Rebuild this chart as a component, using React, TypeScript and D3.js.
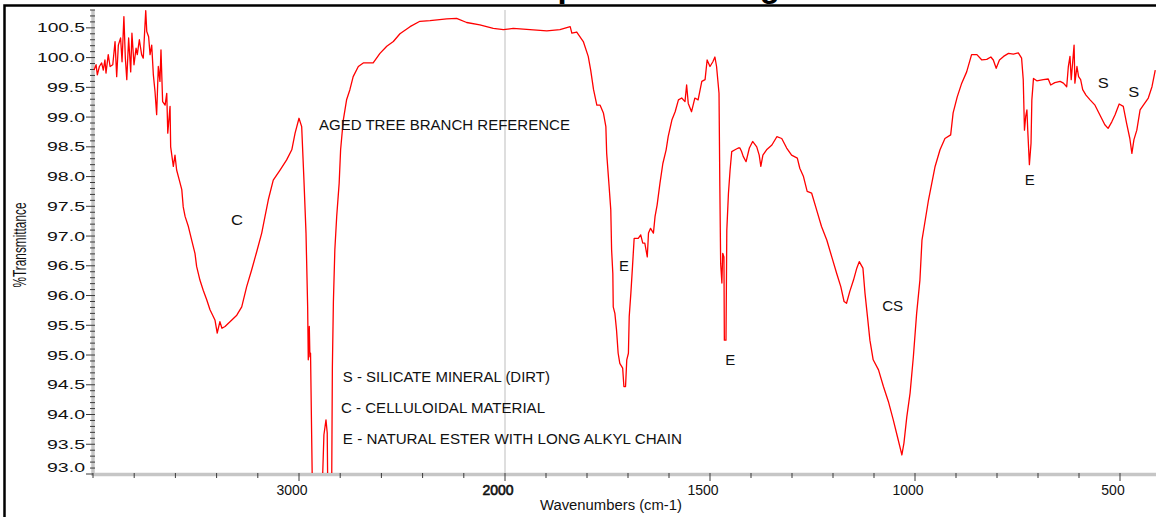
import React, { useRef, useEffect } from "react";
import * as d3 from "d3";

const WIDTH = 1156;
const HEIGHT = 517;
const PLOT = { left: 93, brk: 505, right: 1161, top: 10, bottom: 474 };
const LINE_COLOR = "#ff0000";
const AXIS_COLOR = "#c6c6c6";
const TICK_COLOR = "#3a3a3a";
const TEXT_COLOR = "#111";
const FONT = "'Liberation Sans', Arial, sans-serif";

// x axis is split at 2000 cm-1: the part below 2000 is drawn at twice the scale
const X_DOMAIN = [4000, 2000, 400];
const Y_DOMAIN = [93.0, 100.8];
const Y_TICKS = [93.0, 93.5, 94.0, 94.5, 95.0, 95.5, 96.0, 96.5, 97.0, 97.5, 98.0, 98.5, 99.0, 99.5, 100.0, 100.5];
const X_TICK_LABELS = [3000, 2000, 1500, 1000, 500];

// spectrum (values under 93.0 are off the chart)
const wavenumbers = [
  3995, 3985, 3979, 3969, 3958, 3950, 3942, 3937, 3926, 3917, 3904, 3893, 3885, 3877, 3866, 3859,
  3850, 3843, 3836, 3827, 3817, 3811, 3801, 3791, 3785, 3775, 3764, 3756, 3744, 3739, 3730, 3723,
  3715, 3707, 3699, 3691, 3683, 3675, 3670, 3662, 3650, 3642, 3637, 3626, 3623, 3610, 3602, 3594,
  3581, 3569, 3562, 3553, 3537, 3521, 3505, 3497, 3481, 3465, 3448, 3432, 3408, 3397, 3384, 3374,
  3359, 3335, 3302, 3278, 3254, 3230, 3205, 3181, 3165, 3149, 3125, 3092, 3060, 3035, 3019, 3000,
  2987, 2976, 2966, 2958, 2955, 2950, 2947, 2944, 2936, 2927, 2893, 2885, 2879, 2869, 2863, 2861,
  2857, 2848, 2841, 2838, 2833, 2826, 2817, 2805, 2798, 2785, 2769, 2753, 2737, 2712, 2688, 2640,
  2607, 2574, 2542, 2510, 2461, 2413, 2364, 2283, 2235, 2186, 2122, 2057, 2008,
  1980, 1939, 1898, 1866, 1841, 1837, 1825, 1809, 1797, 1791, 1784, 1776, 1768, 1760, 1754, 1752,
  1746, 1742, 1740, 1737, 1736, 1732, 1728, 1724, 1720, 1713, 1710, 1706, 1703, 1699, 1697, 1693,
  1689, 1685, 1675, 1669, 1664, 1659, 1653, 1650, 1645, 1638, 1634, 1629, 1622, 1615, 1607, 1602,
  1593, 1585, 1577, 1569, 1561, 1557, 1553, 1545, 1537, 1529, 1520, 1512, 1507, 1500, 1493, 1488,
  1484, 1478, 1476, 1474, 1471, 1469, 1466, 1465, 1461, 1459, 1455, 1451, 1447, 1439, 1431, 1427,
  1423, 1419, 1412, 1404, 1396, 1386, 1380, 1376, 1371, 1362, 1349, 1337, 1325, 1313, 1301, 1287,
  1281, 1272, 1263, 1252, 1240, 1228, 1215, 1203, 1191, 1181, 1173, 1167, 1159, 1150, 1142, 1136,
  1127, 1122, 1116, 1110, 1102, 1089, 1077, 1065, 1053, 1043, 1032, 1027, 1020, 1012, 1004, 996,
  988, 983, 975, 967, 959, 951, 939, 927, 913, 907, 897, 886, 874, 862, 849, 837,
  825, 815, 809, 802, 794, 784, 772, 760, 748, 740, 736, 733, 730, 727, 725, 721,
  717, 715, 711, 703, 687, 675, 669, 659, 646, 638, 630, 626, 622, 619, 615, 612,
  610, 605, 601, 596, 591, 583, 573, 561, 553, 545, 537, 529, 520, 512, 502, 492,
  484, 476, 471, 466, 459, 451, 443, 431, 422, 414,
];
const transmittance = [
  99.79, 99.88, 99.71, 99.85, 99.91, 99.79, 99.96, 99.74, 100.05, 99.85, 99.88, 100.27, 99.68, 100.21, 100.33, 99.93,
  100.69, 99.99, 99.63, 100.33, 99.76, 100.41, 99.88, 100.16, 100.05, 100.3, 100.05, 99.99, 100.79, 100.44, 100.35, 100.05,
  100.21, 99.71, 99.43, 99.04, 99.85, 99.6, 100.13, 99.26, 99.2, 99.4, 98.73, 99.18, 98.5, 98.17, 98.36, 98.11,
  97.94, 97.78, 97.49, 97.33, 97.16, 96.93, 96.71, 96.49, 96.26, 96.09, 95.93, 95.76, 95.59, 95.37, 95.56, 95.45,
  95.48, 95.56, 95.67, 95.81, 96.15, 96.43, 96.74, 97.05, 97.33, 97.61, 97.94, 98.11, 98.28, 98.45, 98.73, 98.98,
  98.84, 97.94, 97.05, 95.81, 94.92, 95.48, 94.97, 95.03, 93.0, 92.5, 92.5, 93.0, 93.66, 93.91, 93.69, 92.97,
  92.5, 92.5, 93.0, 94.8, 95.9, 96.77, 97.33, 97.89, 98.45, 98.95, 99.29, 99.46, 99.68, 99.85, 99.91, 99.91,
  100.07, 100.19, 100.27, 100.4, 100.52, 100.61, 100.62, 100.65, 100.66, 100.59, 100.55, 100.49, 100.47,
  100.49, 100.47, 100.45, 100.47, 100.52, 100.41, 100.43, 100.27, 100.02, 99.79, 99.46, 99.2, 99.2, 99.07, 98.84, 98.39,
  97.83, 97.44, 96.77, 96.37, 95.81, 95.7, 95.42, 95.03, 94.86, 94.78, 94.47, 94.47, 94.92, 95.03, 95.65, 96.04,
  96.49, 96.96, 96.96, 97.02, 96.88, 96.88, 96.65, 97.05, 97.13, 97.05, 97.33, 97.52, 97.89, 98.22, 98.45, 98.67,
  98.95, 99.09, 99.29, 99.32, 99.26, 99.54, 99.23, 99.09, 99.32, 99.29, 99.6, 99.63, 99.96, 99.85, 99.93, 100.01,
  99.85, 99.4, 97.83, 96.54, 96.21, 96.71, 96.65, 95.25, 95.25, 97.1, 97.72, 98.11, 98.42, 98.45, 98.48, 98.48,
  98.42, 98.34, 98.25, 98.48, 98.59, 98.5, 98.36, 98.17, 98.36, 98.45, 98.53, 98.67, 98.64, 98.48, 98.36, 98.31,
  98.14, 98.0, 97.75, 97.72, 97.44, 97.16, 96.93, 96.65, 96.37, 96.15, 95.9, 95.87, 96.07, 96.26, 96.46, 96.57,
  96.46, 96.04, 95.65, 95.25, 94.92, 94.75, 94.47, 94.22, 93.91, 93.63, 93.32, 93.52, 93.96, 94.36, 94.97, 95.7,
  96.26, 96.93, 97.27, 97.61, 97.89, 98.17, 98.45, 98.64, 98.7, 99.07, 99.34, 99.57, 99.76, 100.05, 100.05, 99.96,
  99.97, 100.01, 99.96, 99.82, 99.96, 100.02, 100.07, 100.06, 100.08, 99.99, 99.63, 98.78, 99.01, 99.12, 98.78, 98.2,
  98.56, 99.29, 99.65, 99.61, 99.63, 99.64, 99.54, 99.58, 99.6, 99.57, 99.51, 99.85, 100.02, 99.63, 99.96, 100.21,
  99.57, 99.85, 99.68, 99.63, 99.46, 99.37, 99.29, 99.2, 99.09, 98.98, 98.87, 98.81, 98.92, 99.04, 99.22, 99.18,
  98.9, 98.64, 98.39, 98.62, 98.78, 99.12, 99.2, 99.32, 99.51, 99.79,
];

// peak markers and key, anchored in data units
const noteText = [
  "AGED TREE BRANCH REFERENCE", "C", "E", "E", "CS", "E", "S", "S",
  "S - SILICATE MINERAL (DIRT)", "C - CELLULOIDAL MATERIAL", "E - NATURAL ESTER WITH LONG ALKYL CHAIN",
];
const noteWn = [2903, 3330, 1722, 1463, 1080, 732, 554, 480, 2787, 2796, 2787];
const noteT = [98.78, 97.18, 96.41, 94.83, 95.74, 97.86, 99.49, 99.34, 94.55, 94.03, 93.5];
const NOTE_WIDTH = [251, 12, 10, 10, 21, 10, 11, 11, 207, 204, 339];

const TITLE = "FTIR Spectrum of Aged Tree Branch";

export default function App() {
  const svgRef = useRef<SVGSVGElement>(null);

  useEffect(() => {
    const svg = d3.select(svgRef.current);
    svg.selectAll("*").remove();

    const x = d3.scaleLinear().domain(X_DOMAIN).range([PLOT.left, PLOT.brk, PLOT.right]);
    const y = d3.scaleLinear().domain(Y_DOMAIN).range([PLOT.bottom, PLOT.top]);

    svg
      .append("defs")
      .append("clipPath")
      .attr("id", "plot-clip")
      .append("rect")
      .attr("x", PLOT.left)
      .attr("y", PLOT.top - 2)
      .attr("width", PLOT.right - PLOT.left)
      .attr("height", PLOT.bottom - PLOT.top + 1);

    // title, mostly cut off by the top of the picture (as in the source)
    svg
      .append("text")
      .attr("x", 453)
      .attr("y", -3)
      .attr("font-family", FONT)
      .attr("font-size", 33)
      .attr("font-weight", "bold")
      .attr("fill", "#000")
      .text(TITLE);

    // outer frame
    svg
      .append("rect")
      .attr("x", 4.5)
      .attr("y", 5.5)
      .attr("width", 1160)
      .attr("height", 520)
      .attr("fill", "none")
      .attr("stroke", "#000")
      .attr("stroke-width", 2.5);

    // scale break marker at 2000
    svg
      .append("line")
      .attr("x1", x(2000))
      .attr("x2", x(2000))
      .attr("y1", PLOT.top)
      .attr("y2", PLOT.bottom)
      .attr("stroke", "#bdbdbd")
      .attr("stroke-width", 1);

    // y axis
    svg
      .append("line")
      .attr("x1", PLOT.left)
      .attr("x2", PLOT.left)
      .attr("y1", PLOT.top)
      .attr("y2", PLOT.bottom + 2)
      .attr("stroke", AXIS_COLOR)
      .attr("stroke-width", 3.5);

    const yMinor = d3.range(930, 1009, 1).map((v) => v / 10);
    svg
      .append("g")
      .selectAll("line")
      .data(yMinor)
      .join("line")
      .attr("x1", (d) => (Math.round(d * 10) % 5 === 0 ? PLOT.left - 7 : PLOT.left - 3))
      .attr("x2", PLOT.left + 2)
      .attr("y1", (d) => y(d))
      .attr("y2", (d) => y(d))
      .attr("stroke", TICK_COLOR)
      .attr("stroke-width", 1);

    svg
      .append("g")
      .selectAll("text")
      .data(Y_TICKS)
      .join("text")
      .attr("x", PLOT.left - 8)
      .attr("y", (d) => y(d) + 4.5 - (d === Y_DOMAIN[0] ? 7 : 0))
      .attr("text-anchor", "end")
      .attr("font-family", FONT)
      .attr("font-size", 13)
      .attr("fill", TEXT_COLOR)
      .attr("textLength", (d) => (d >= 100 ? 48 : 38))
      .attr("lengthAdjust", "spacingAndGlyphs")
      .text((d) => d.toFixed(1));

    svg
      .append("text")
      .attr("transform", `translate(26,${245}) rotate(-90)`)
      .attr("text-anchor", "middle")
      .attr("font-family", FONT)
      .attr("font-size", 18)
      .attr("fill", TEXT_COLOR)
      .attr("textLength", 85)
      .attr("lengthAdjust", "spacingAndGlyphs")
      .text("%Transmittance");

    // x axis
    svg
      .append("line")
      .attr("x1", PLOT.left)
      .attr("x2", PLOT.right)
      .attr("y1", PLOT.bottom + 0.5)
      .attr("y2", PLOT.bottom + 0.5)
      .attr("stroke", AXIS_COLOR)
      .attr("stroke-width", 3.5);

    const xMinor = [...d3.range(4000, 2000, -200), ...d3.range(2000, 399, -100)];
    svg
      .append("g")
      .selectAll("line")
      .data(xMinor)
      .join("line")
      .attr("x1", (d) => x(d))
      .attr("x2", (d) => x(d))
      .attr("y1", PLOT.bottom - 1)
      .attr("y2", (d) => (X_TICK_LABELS.includes(d) ? PLOT.bottom + 7 : PLOT.bottom + 4))
      .attr("stroke", TICK_COLOR)
      .attr("stroke-width", 1);

    svg
      .append("g")
      .selectAll("text")
      .data(X_TICK_LABELS)
      .join("text")
      .attr("x", (d) => x(d) - 7)
      .attr("y", PLOT.bottom + 21)
      .attr("text-anchor", "middle")
      .attr("font-family", FONT)
      .attr("font-size", 14)
      .attr("fill", TEXT_COLOR)
      .attr("stroke", (d) => (d === 2000 ? TEXT_COLOR : "none"))
      .attr("stroke-width", 0.6)
      .text((d) => String(d));

    svg
      .append("text")
      .attr("x", 540)
      .attr("y", 510)
      .attr("font-family", FONT)
      .attr("font-size", 14)
      .attr("fill", TEXT_COLOR)
      .attr("textLength", 142)
      .attr("lengthAdjust", "spacingAndGlyphs")
      .text("Wavenumbers (cm-1)");

    // spectrum
    const pts = wavenumbers.map((w, i) => [w, transmittance[i]] as [number, number]);
    const line = d3
      .line<[number, number]>()
      .x((d) => x(d[0]))
      .y((d) => y(d[1]));

    svg
      .append("path")
      .datum(pts)
      .attr("clip-path", "url(#plot-clip)")
      .attr("d", line)
      .attr("fill", "none")
      .attr("stroke", LINE_COLOR)
      .attr("stroke-width", 1.3)
      .attr("stroke-linejoin", "round");

    // annotations
    svg
      .append("g")
      .selectAll("text")
      .data(noteText)
      .join("text")
      .attr("x", (_, i) => x(noteWn[i]))
      .attr("y", (_, i) => y(noteT[i]))
      .attr("font-family", FONT)
      .attr("font-size", 14)
      .attr("fill", TEXT_COLOR)
      .attr("textLength", (_, i) => NOTE_WIDTH[i])
      .attr("lengthAdjust", "spacingAndGlyphs")
      .text((d) => d);
  }, []);

  return (
    <svg
      ref={svgRef}
      width={WIDTH}
      height={HEIGHT}
      style={{ position: "absolute", left: 0, top: 0, background: "#fff" }}
    />
  );
}
